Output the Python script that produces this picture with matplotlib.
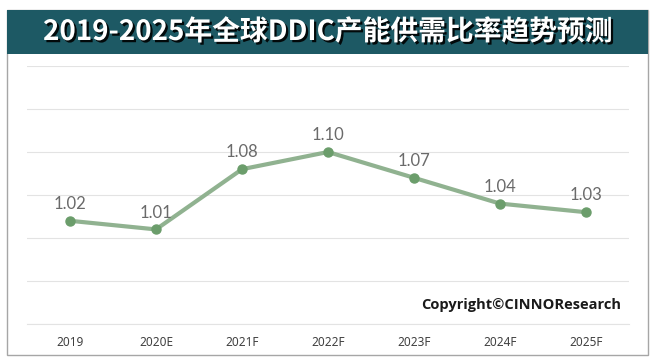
import matplotlib
matplotlib.use("Agg")
import matplotlib.pyplot as plt
import matplotlib.patheffects as pe
from matplotlib.patches import Rectangle

plt.rcParams['font.family'] = ['Noto Sans CJK SC', 'DejaVu Sans']

# data
years = ['2019', '2020E', '2021F', '2022F', '2023F', '2024F', '2025F']
ratio = [1.02, 1.01, 1.08, 1.10, 1.07, 1.04, 1.03]
y_ticks = [0.90, 0.95, 1.00, 1.05, 1.10, 1.15, 1.20]

title = '2019-2025年全球DDIC产能供需比率趋势预测'
copyright_txt = 'Copyright©CINNOResearch'

W, H = 655, 364
fig = plt.figure(figsize=(W / 100, H / 100), dpi=100)

def fx(px):
    return px / W

def fy(py):
    return 1 - py / H

# outer frame and title bar
fig.patches.append(Rectangle((fx(7), fy(355)), fx(641), 345 / H, transform=fig.transFigure,
                             facecolor='white', edgecolor='#a6a6a6', linewidth=1.0, zorder=-2))
fig.patches.append(Rectangle((fx(7), fy(54)), fx(641), 44 / H, transform=fig.transFigure,
                             facecolor='#1d5964', edgecolor='none', zorder=-1))
fig.text(0.5, fy(32), title, color='white', fontsize=20, fontweight='bold',
         ha='center', va='center', zorder=3,
         path_effects=[pe.withSimplePatchShadow(offset=(1.6, -1.6), shadow_rgbFace='black', alpha=0.9)])

# plot area
ax = fig.add_axes([fx(27), fy(324), fx(602), 258 / H])
ax.set_zorder(2)
x = list(range(len(years)))
ax.plot(x, ratio, color='#90b290', linewidth=3.0, solid_capstyle='round', zorder=3)
ax.plot(x, ratio, linestyle='none', marker='o', markersize=6.5,
        markerfacecolor='#6b9d6b', markeredgecolor='#6b9d6b', zorder=4)
for xi, v in zip(x, ratio):
    ax.annotate(f'{v:.2f}', (xi, v), xytext=(0, 8.5), textcoords='offset points',
                ha='center', va='baseline', fontsize=12, color='#6a6a6a',
                family='Lato', fontweight='normal')

ax.set_xlim(-0.5, len(years) - 0.5)
ax.set_ylim(y_ticks[0], y_ticks[-1])
ax.set_yticks(y_ticks)
ax.set_xticks(x)
ax.set_xticklabels(years, fontsize=8.5, color='#404040', family='Noto Sans')
ax.tick_params(axis='x', length=0, pad=9)
ax.tick_params(axis='y', length=0, labelleft=False)
ax.grid(axis='y', color='#e3e3e3', linewidth=0.8)
ax.set_axisbelow(True)
for s in ax.spines.values():
    s.set_visible(False)
ax.spines['bottom'].set_visible(True)
ax.spines['bottom'].set_color('#e3e3e3')
ax.spines['bottom'].set_linewidth(0.8)
ax.patch.set_alpha(0)

fig.text(fx(621), fy(305), copyright_txt, fontsize=10.5, fontweight='bold', color='#1a1a1a',
         ha='right', va='center', family='Open Sans', zorder=5)

fig.savefig('out.png', dpi=100)
